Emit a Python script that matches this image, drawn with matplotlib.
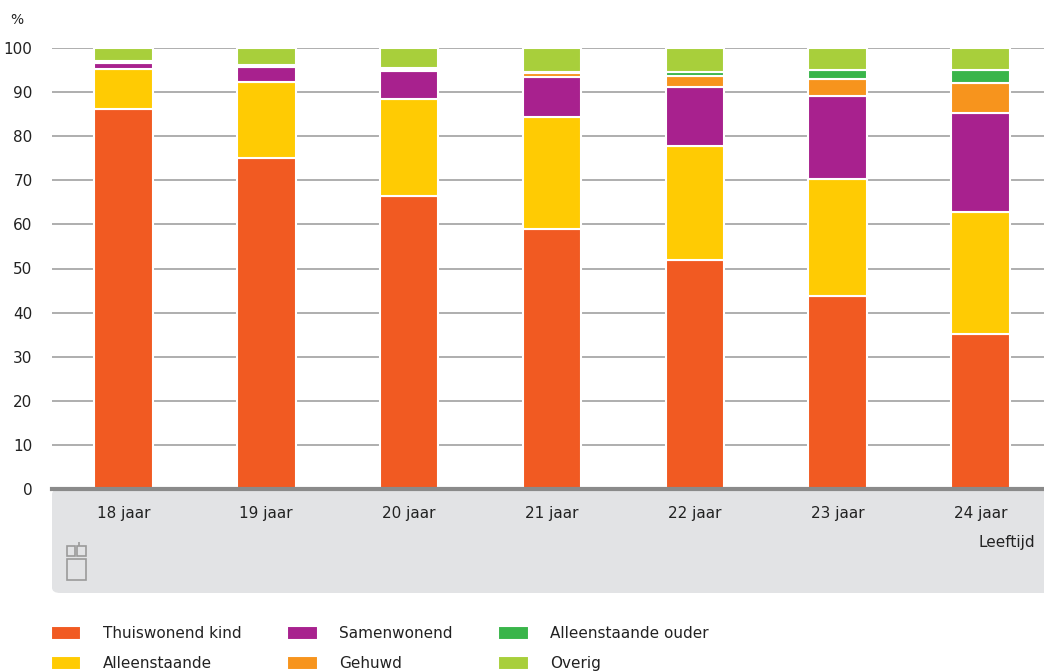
import matplotlib
matplotlib.use("Agg")
import matplotlib.pyplot as plt
from matplotlib.patches import FancyBboxPatch, Rectangle
import numpy as np

# values (percent of young adults per age)
leeftijd = ['18 jaar', '19 jaar', '20 jaar', '21 jaar', '22 jaar', '23 jaar', '24 jaar']
thuiswonend = [86.2, 75.1, 66.4, 59.0, 51.9, 43.8, 35.1]
alleenstaande = [9.0, 17.2, 22.0, 25.4, 25.9, 26.6, 27.8]
samenwonend = [1.4, 3.5, 6.4, 9.0, 13.4, 18.7, 22.4]
gehuwd = [0.2, 0.2, 0.4, 1.0, 2.4, 3.9, 6.8]
alleenstaande_ouder = [0.2, 0.2, 0.2, 0.2, 0.9, 1.9, 2.8]
overig = [3.0, 3.8, 4.6, 5.4, 5.5, 5.1, 5.1]
yticks = [0, 10, 20, 30, 40, 50, 60, 70, 80, 90, 100]

series = [
    ('Thuiswonend kind', thuiswonend, '#f15a22'),
    ('Alleenstaande', alleenstaande, '#ffcb03'),
    ('Samenwonend', samenwonend, '#a8218e'),
    ('Gehuwd', gehuwd, '#f7941d'),
    ('Alleenstaande ouder', alleenstaande_ouder, '#39b54a'),
    ('Overig', overig, '#a8cf3b'),
]

W, H = 1044, 672
fig = plt.figure(figsize=(W / 100, H / 100), dpi=100)
ax = fig.add_axes([52 / W, 1 - 489 / H, 992 / W, (489 - 48) / H])

# grey band under the axis
band = FancyBboxPatch((52 / W, 1 - 593 / H), 992 / W + 0.02, (593 - 489) / H,
                      boxstyle='round,pad=0,rounding_size=0.008',
                      transform=fig.transFigure, facecolor='#e2e3e5',
                      edgecolor='none', zorder=-5)
fig.patches.append(band)

x = np.arange(len(leeftijd))
bottom = np.zeros(len(leeftijd))
handles = []
for name, vals, col in series:
    b = ax.bar(x, vals, bottom=bottom, width=0.41, color=col,
               edgecolor='white', linewidth=1.5, label=name, zorder=3)
    handles.append(b)
    bottom += np.array(vals)

ax.set_ylim(0, 100)
ax.set_xlim(-0.5, 6.5 - 8 / 142.8)
ax.set_yticks(yticks)
ax.yaxis.grid(True, color='#999999', linewidth=1.1, zorder=0)
ax.set_axisbelow(True)
for s in ['top', 'right', 'left']:
    ax.spines[s].set_visible(False)
ax.spines['bottom'].set_color('#8a8a8a')
ax.spines['bottom'].set_linewidth(3)
ax.spines['bottom'].set_zorder(4)
ax.set_xticks(x)
ax.set_xticklabels(leeftijd, fontsize=11, color='#222222')
ax.tick_params(axis='x', length=0, pad=12)
ax.tick_params(axis='y', length=0, pad=14, labelsize=11, labelcolor='#222222')
ax.set_facecolor('none')

fig.text(10 / W, 1 - 20 / H, '%', fontsize=10, color='#222222', va='center')
fig.text(1035 / W, 1 - 543 / H, 'Leeftijd', fontsize=11, color='#222222',
         ha='right', va='center')

# rough cbs logo
lc = '#9a9a9a'
for (x0, y0, w, h) in [(67, 546, 8, 10), (77, 546, 9, 10), (79, 542, 0, 4),
                       (67, 559, 19, 21)]:
    fig.patches.append(Rectangle((x0 / W, 1 - (y0 + h) / H), w / W, h / H,
                                 transform=fig.transFigure, fill=False,
                                 edgecolor=lc, linewidth=1.2))

fig.legend(handles=handles, loc='upper left', ncol=3, frameon=False,
           bbox_to_anchor=(37 / W, 1 - 612 / H), fontsize=11,
           handlelength=2.0, handleheight=1.1, handletextpad=1.4,
           columnspacing=3.0, labelspacing=0.95, labelcolor='#222222')

fig.savefig('out.png', dpi=100)
